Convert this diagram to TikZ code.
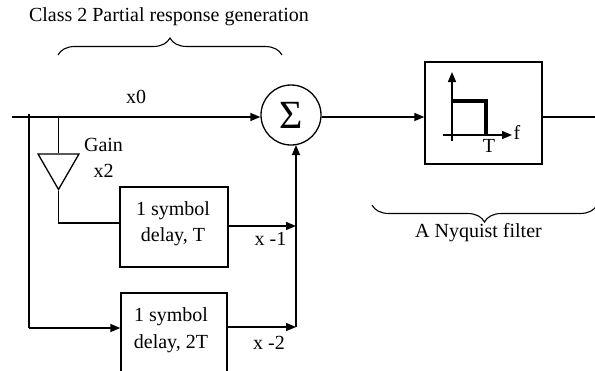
\documentclass[tikz,border=0pt]{standalone}
\usepackage{fontspec}
\setmainfont{Liberation Serif}
\usepackage{tikz}
\usetikzlibrary{positioning, shapes.geometric, arrows.meta, decorations.pathreplacing}
\tikzstyle{block}=[rectangle, draw, line width=1.3pt, inner sep=0pt]
\tikzstyle{adder}=[circle, draw, line width=1.3pt, minimum size=60pt, inner sep=0pt, font=\fontsize{40}{40}\selectfont]
\tikzstyle{gain}=[regular polygon, regular polygon sides=3, shape border rotate=180, draw, line width=1.3pt, minimum size=47.3pt, inner sep=0pt]
\tikzstyle{wire}=[line width=1.3pt]
\tikzstyle{flow}=[wire, -{Triangle[length=10pt, width=8pt]}]
\tikzstyle{curve}=[line width=1.1pt, decorate, decoration={brace, amplitude=#1}]
\tikzstyle{txt}=[inner sep=0pt, font=\fontsize{20}{20}\selectfont]
\tikzstyle{twolines}=[inner sep=0pt, align=center, font=\fontsize{20}{26.5}\selectfont]

\begin{document}
\begin{tikzpicture}[x=1pt, y=-1pt]
    \useasboundingbox (0,0) rectangle (595,370);

    % Blocks
    \node[adder] (sum) at (291,115) {Σ};
    \node[block, minimum width=117pt, minimum height=102pt] (filter) at (483.5,113) {};
    \node[gain] (amp) at (58.5,165.8) {};
    \node[block, minimum width=108pt, minimum height=80pt, label={[twolines, yshift=3.5pt, xshift=-1pt]center:1 symbol\\delay, T}] (delayT) at (174,227) {};
    \node[block, minimum width=106pt, minimum height=82pt, label={[twolines, yshift=4pt, xshift=-3pt]center:1 symbol\\delay, 2T}] (delayTT) at (174,334) {};

    % Free ends and junctions
    \coordinate (in) at (12,117);
    \coordinate (out) at (595,117);
    \coordinate (tapA) at (29,114);
    \coordinate (tapB) at (58.5,117);
    \coordinate (bend) at (58.5,223);
    \coordinate (low) at (29,328);
    \coordinate (busT) at (296,226);
    \coordinate (busTT) at (296,327);
    \coordinate (busTop) at (296,145);

    % Wires
    \draw[flow] (in) -- (in -| sum.west);
    \draw[flow] (sum.east |- out) -- (filter.west |- out);
    \draw[wire] (filter.east |- out) -- (out);
    \draw[wire] (tapA) -- (low);
    \draw[flow] (low) -- (low -| delayTT.west);
    \draw[wire] (tapB) -- (amp.north);
    \draw[wire] (amp.corner 1) -- (bend) -- (bend -| delayT.west);
    \draw[flow] (delayT.east |- busT) -- (busT);
    \draw[flow] (delayTT.east |- busTT) -- (busTT);
    \draw[flow] (busTT) -- (busTop);

    % Filter response
    \coordinate (yLow) at (452,141);
    \coordinate (yTop) at (452,72);
    \coordinate (xLeft) at (443,135);
    \coordinate (xRight) at (512,135);
    \coordinate (passA) at (451,101);
    \coordinate (passB) at (486,101);
    \coordinate (passC) at (486,135);
    \draw[flow] (yLow) -- (yTop);
    \draw[flow] (xLeft) -- (xRight);
    \draw[line width=3.4pt] (passA) -- (passB) -- (passC);
    \node[txt] (labT) at (489,146) {T};
    \node[txt] (labF) at (517,132) {f};

    % Braces
    \coordinate (topA) at (58,55);
    \coordinate (topB) at (282,55);
    \coordinate (botA) at (372,205);
    \coordinate (botB) at (597,205);
    \draw[curve=17pt] (topA) -- (topB);
    \draw[curve=17pt] (botB) -- (botA);

    % Labels
    \node[txt] (title) at (169,17) {Class 2 Partial response generation};
    \node[txt] (labNyq) at (478.5,233) {A Nyquist filter};
    \node[txt] (labXzero) at (136,97) {x0};
    \node[twolines] (labGain) at (103.5,158) {Gain\\x2};
    \node[txt] (labXone) at (270.5,239) {x -1};
    \node[txt] (labXtwo) at (269,343) {x -2};
\end{tikzpicture}
\end{document}
